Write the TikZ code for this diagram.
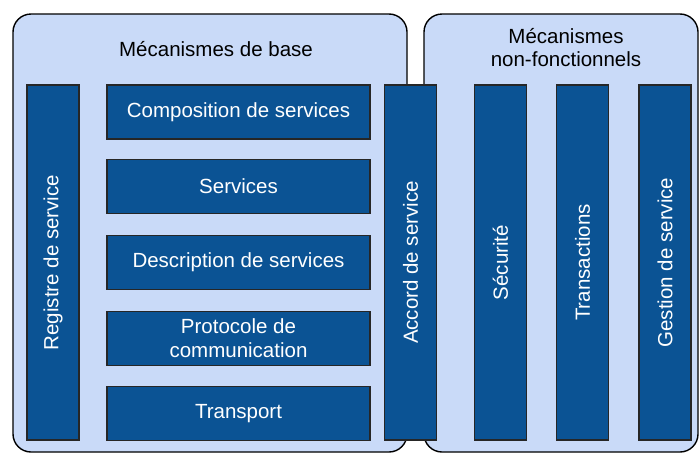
\documentclass[tikz,border=0pt]{standalone}
\usepackage{fontspec}
\setmainfont{Liberation Sans}
\definecolor{fondclair}{HTML}{C9DAF8}
\definecolor{bleufonce}{HTML}{0B5394}

\begin{document}
\begin{tikzpicture}[x=1pt,y=-1pt,
  panneau/.style={rectangle,rounded corners=18pt,draw=black,line width=1.4pt,fill=fondclair},
  bloc/.style={rectangle,draw=black!85,line width=1.1pt,fill=bleufonce,text=white,
    font=\fontsize{20.5}{24}\selectfont,align=center,inner sep=0pt},
  ligne/.style={bloc,minimum width=263pt,minimum height=54pt},
  colonne/.style={bloc,rotate=90,minimum width=355pt,minimum height=52pt},
  titre/.style={font=\fontsize{20.5}{23}\selectfont,align=center}]
\useasboundingbox (0,0) rectangle (699,453);
% the two panels
\node[panneau,minimum width=394pt,minimum height=438pt] (base) at (210,233) {};
\node[panneau,minimum width=274pt,minimum height=438pt] (nonfonc) at (561,233) {};
\node[titre] (titrebase) at (216,49) {Mécanismes de base};
\node[titre] (titrenonfonc) at (566,48) {Mécanismes\\non-fonctionnels};
% col, row
\node[colonne] (registre) at (53,262.5) {Registre de service};
\node[ligne] (compo) at (238.5,112) {Composition de services};
\node[ligne] (services) at (238.5,186.5) {Services};
\node[ligne] (descr) at (238.5,262.5) {Description de services};
\node[ligne] (proto) at (238.5,338.5) {Protocole de\\communication};
\node[ligne] (transport) at (238.5,413.5) {Transport};
\node[colonne] (accord) at (410.5,262.5) {Accord de service};
\node[colonne] (securite) at (500.5,262.5) {Sécurité};
\node[colonne] (transactions) at (582.5,262.5) {Transactions};
\node[colonne] (gestion) at (665,262.5) {Gestion de service};
\end{tikzpicture}
\end{document}
